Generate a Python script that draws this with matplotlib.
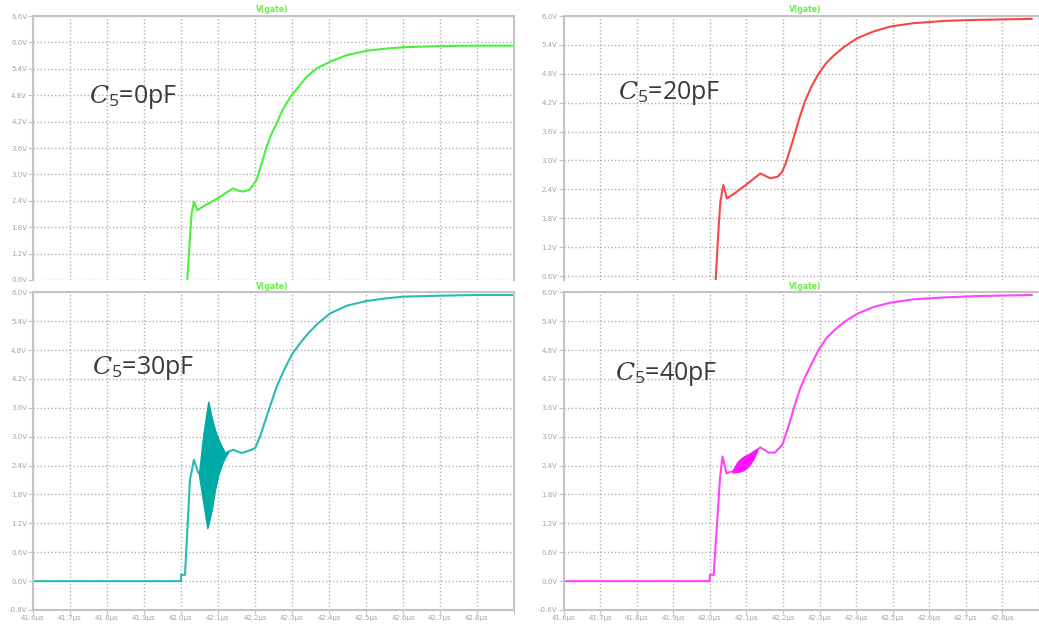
"""
Gate voltage waveforms V(gate) for four values of C5 (0, 20, 30, 40 pF),
drawn as a 2x2 grid of LTspice-style panels.
"""

import numpy as np
import matplotlib
matplotlib.use('Agg')
import matplotlib.pyplot as plt
from matplotlib.patches import Rectangle

plt.rcParams['mathtext.fontset'] = 'custom'
plt.rcParams['mathtext.it'] = 'DejaVu Serif:italic'
plt.rcParams['mathtext.rm'] = 'Open Sans'

W, H = 1039, 626

# --- waveforms (time in us, voltage in V) ---
t_c0 = [41.6, 42.0, 42.0, 42.011, 42.017, 42.0243, 42.0288, 42.035, 42.044, 42.07,
        42.1, 42.125, 42.141, 42.155, 42.168, 42.185, 42.195, 42.2045, 42.218,
        42.2315, 42.245, 42.2586, 42.2766, 42.299, 42.3216, 42.3396, 42.3667,
        42.4027, 42.4477, 42.5018, 42.5559, 42.6009, 42.7, 42.7991, 42.9]
v_c0 = [0.0, 0.0, 0.12, 0.13, 0.6, 1.58, 2.12, 2.38, 2.19, 2.32,
        2.46, 2.6, 2.68, 2.63, 2.61, 2.65, 2.76, 2.88, 3.25,
        3.63, 3.93, 4.16, 4.50, 4.80, 5.03, 5.22, 5.41,
        5.56, 5.71, 5.81, 5.86, 5.89, 5.918, 5.926, 5.926]

t_c20 = [41.6, 42.0, 42.0, 42.011, 42.016, 42.024, 42.029, 42.037, 42.047, 42.07,
         42.1, 42.125, 42.1385, 42.165, 42.185, 42.1968, 42.2076, 42.2193, 42.2327,
         42.2462, 42.2597, 42.2776, 42.2956, 42.318, 42.3404, 42.3674, 42.4032,
         42.4481, 42.493, 42.5558, 42.6455, 42.7353, 42.88]
v_c20 = [0.0, 0.0, 0.12, 0.13, 0.52, 1.6, 2.15, 2.49, 2.21, 2.33,
         2.5, 2.65, 2.73, 2.63, 2.66, 2.75, 2.94, 3.22, 3.56,
         3.91, 4.22, 4.53, 4.78, 5.02, 5.19, 5.36, 5.54,
         5.68, 5.78, 5.85, 5.90, 5.92, 5.94]

t_c30 = [41.6, 42.0, 42.0, 42.0108, 42.0243, 42.035, 42.047, 42.07, 42.09, 42.11,
         42.128, 42.1414, 42.164, 42.191, 42.2, 42.2135, 42.2315, 42.245, 42.2586,
         42.2766, 42.299, 42.3216, 42.344, 42.371, 42.4027, 42.4477, 42.5018,
         42.5559, 42.6009, 42.7, 42.799, 42.9]
v_c30 = [0.0, 0.0, 0.13, 0.13, 2.11, 2.52, 2.24, 2.4, 2.5, 2.6,
         2.69, 2.73, 2.66, 2.73, 2.76, 3.0, 3.42, 3.73, 4.04,
         4.35, 4.70, 4.94, 5.15, 5.36, 5.56, 5.72, 5.82,
         5.875, 5.91, 5.93, 5.944, 5.944]
# envelope of the ringing burst
t_ring30 = [42.0486, 42.0603, 42.0711, 42.0738, 42.083, 42.0919, 42.1009,
            42.1099, 42.1189, 42.1279]
hi_ring30 = [2.24, 3.05, 3.60, 3.73, 3.39, 3.14, 2.95, 2.80, 2.67, 2.69]
lo_ring30 = [2.20, 1.63, 1.10, 1.18, 1.48, 1.90, 2.21, 2.42, 2.57, 2.68]

t_c40 = [41.6, 42.0, 42.0, 42.0106, 42.0276, 42.0348, 42.0456, 42.0618, 42.09,
         42.1245, 42.138, 42.1606, 42.178, 42.1982, 42.209, 42.2206, 42.2341,
         42.2475, 42.261, 42.279, 42.2968, 42.3193, 42.3418, 42.3687, 42.4046,
         42.4495, 42.4944, 42.5572, 42.6469, 42.7367, 42.88]
v_c40 = [0.0, 0.0, 0.13, 0.13, 2.11, 2.59, 2.24, 2.28, 2.45,
         2.68, 2.78, 2.67, 2.67, 2.83, 3.08, 3.35, 3.70,
         4.01, 4.25, 4.52, 4.80, 5.05, 5.22, 5.39, 5.56,
         5.70, 5.785, 5.855, 5.896, 5.923, 5.944]
t_ring40 = [42.062, 42.066, 42.075, 42.084, 42.093, 42.102, 42.111, 42.12, 42.129]
hi_ring40 = [2.28, 2.34, 2.47, 2.54, 2.59, 2.62, 2.66, 2.71, 2.75]
lo_ring40 = [2.26, 2.26, 2.27, 2.28, 2.31, 2.36, 2.44, 2.55, 2.70]

x_ticks = [41.6, 41.7, 41.8, 41.9, 42.0, 42.1, 42.2, 42.3, 42.4, 42.5, 42.6, 42.7, 42.8, 42.9]
x_labels = ['41.6µs', '41.7µs', '41.8µs', '41.9µs', '42.0µs', '42.1µs', '42.2µs',
            '42.3µs', '42.4µs', '42.5µs', '42.6µs', '42.7µs', '42.8µs', '']

GRID = '#b0b0b0'
SPINE = '#c4c4c4'
TICKTXT = '#a4a4a4'


def add_panel(fig, box, xlim, ylim, yticks, show_x, right_spine):
    """box = (left, top, right, bottom) in pixels from the top-left corner."""
    l, t, r, b = box
    ax = fig.add_axes([l / W, 1 - b / H, (r - l) / W, (b - t) / H])
    ax.set_xlim(*xlim)
    ax.set_ylim(*ylim)
    ax.set_xticks(x_ticks)
    ax.set_yticks(yticks)
    ax.set_yticklabels([f'{v:.1f}V'.replace('-0.0', '0.0') for v in yticks])
    if show_x:
        ax.set_xticklabels(x_labels)
    else:
        ax.set_xticklabels([])
    ax.tick_params(axis='both', colors=SPINE, labelcolor=TICKTXT, labelsize=5,
                   length=3.5, width=0.8, pad=0.8)
    ax.tick_params(axis='x', length=0 if not show_x else 3.0)
    ax.grid(True, color=GRID, linestyle=(0, (1, 1.6)), linewidth=1.0)
    for sp in ax.spines.values():
        sp.set_color(SPINE)
        sp.set_linewidth(1.5)
    ax.spines['right'].set_visible(right_spine)
    ax.spines['bottom'].set_visible(show_x)
    ax.set_axisbelow(True)
    return ax


def main():
    fig = plt.figure(figsize=(W / 100, H / 100), dpi=100)

    y_tl = np.round(np.arange(0.6, 6.61, 0.6), 1)
    y_tr = np.round(np.arange(0.6, 6.01, 0.6), 1)
    y_bot = np.round(np.arange(-0.6, 6.01, 0.6), 1)

    ax_tl = add_panel(fig, (33, 16, 514, 280), (41.6, 42.9), (0.6, 6.6), y_tl, False, True)
    ax_tr = add_panel(fig, (563.5, 16, 1039, 280), (41.6, 42.88), (0.517, 6.0), y_tr, False, False)
    ax_bl = add_panel(fig, (33, 292.3, 514, 610), (41.6, 42.9), (-0.6, 6.0), y_bot, True, True)
    ax_br = add_panel(fig, (563.5, 292.3, 1039, 610), (41.6, 42.88), (-0.6, 6.0), y_bot, True, False)

    ax_tl.plot(t_c0, v_c0, color='#4cf03a', lw=1.5)
    ax_tr.plot(t_c20, v_c20, color='#f44848', lw=1.5)

    ax_bl.plot(t_c30, v_c30, color='#2cbab4', lw=1.5)
    ax_bl.fill_between(t_ring30, lo_ring30, hi_ring30, color='#00aaa6',
                       lw=1.0, zorder=3)

    ax_br.plot(t_c40, v_c40, color='#ff44ff', lw=1.5)
    ax_br.fill_between(t_ring40, lo_ring40, hi_ring40, color='#ff14ff',
                       lw=1.0, zorder=3)

    # the top-left screen capture is cut through its lowest tick label
    fig.patches.append(Rectangle((0, 1 - 290 / H), 32 / W, 8 / H,
                                 transform=fig.transFigure, facecolor='white',
                                 edgecolor='none', zorder=1))

    # trace names above each panel
    for x, y in [(272, 10), (805, 10), (272, 286), (805, 286)]:
        fig.text(x / W, 1 - y / H, 'V(gate)', color='#66ee44', fontsize=5.5,
                 fontweight='bold', ha='center', va='center', zorder=3)

    # capacitor value labels
    labels = [(89, 97, '0pF'), (618, 93, '20pF'), (92, 368, '30pF'), (615, 374, '40pF')]
    for x, y, val in labels:
        fig.text(x / W, 1 - y / H, r'$C_5$=' + val, color='#3a3a3a', fontsize=18,
                 family='Open Sans', ha='left', va='center', zorder=3)

    fig.savefig('out.png', dpi=100)
    plt.close(fig)


if __name__ == '__main__':
    main()
